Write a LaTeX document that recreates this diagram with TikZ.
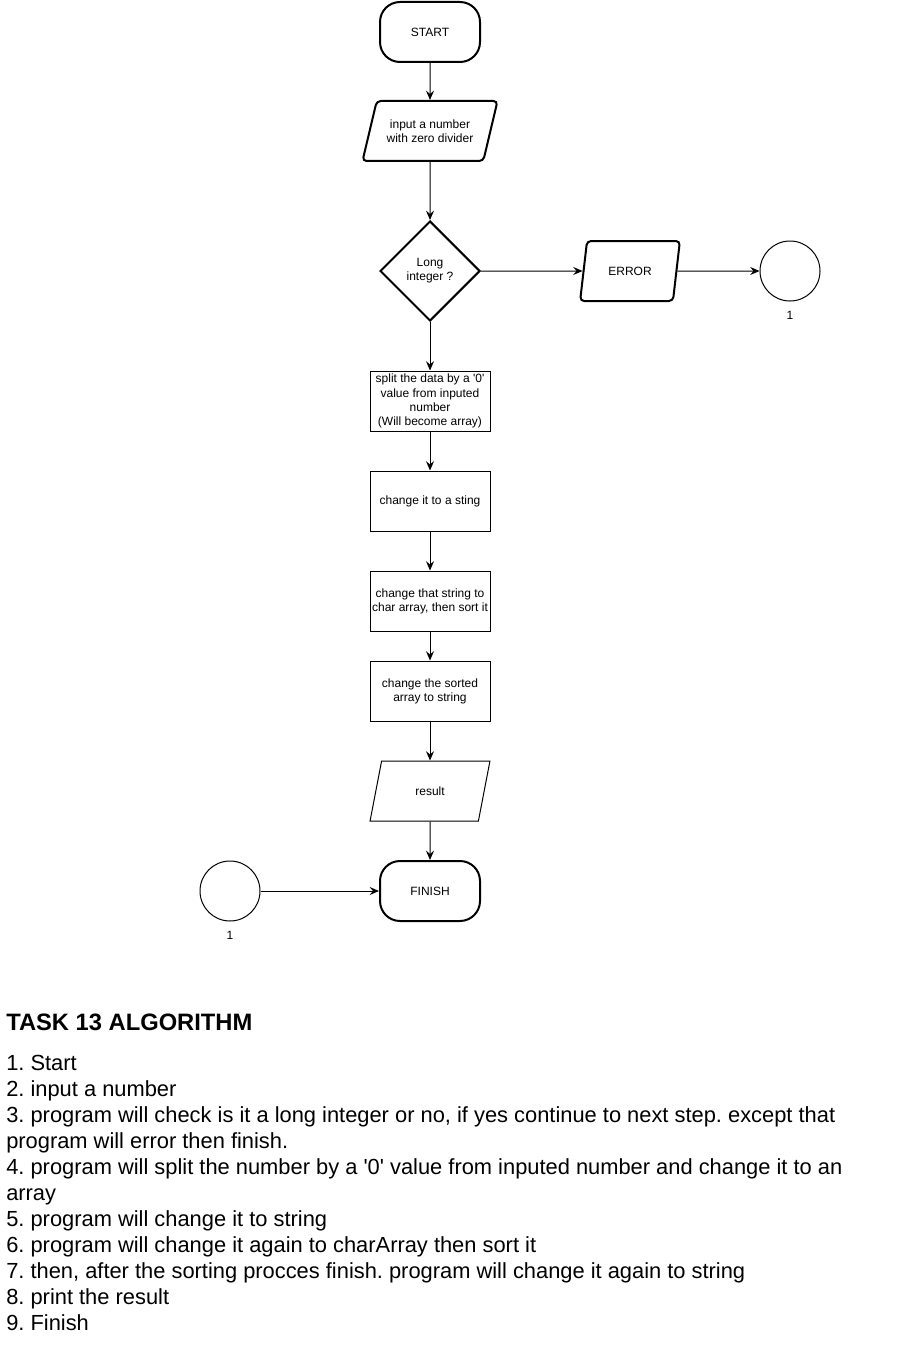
\documentclass[tikz,border=0pt]{standalone}
\usepackage{fontspec}
\setmainfont{Liberation Sans}
\usetikzlibrary{shapes.geometric,arrows.meta}
\newcommand{\apos}{\textquotesingle}

\begin{document}
\frenchspacing
\begin{tikzpicture}
[x=0.75pt,y=-0.75pt,
  lineDecorate/.style={-{Stealth[length=7pt,width=6pt,inset=2.5pt]},line width=0.75pt},%
  termDecorate/.style={shape=rectangle,rounded corners=15pt,draw,line width=1.5pt,
    minimum width=75pt,minimum height=45pt},%
  ioDecorate/.style={shape=trapezium,draw,trapezium stretches=true,minimum height=45pt,
    inner sep=1pt,align=center},%
  decisionDecorate/.style={shape=diamond,draw,line width=1.5pt,minimum width=75pt,
    minimum height=75pt,inner sep=0pt,align=center},%
  processDecorate/.style={shape=rectangle,draw,line width=0.75pt,minimum width=90pt,
    minimum height=45pt,inner sep=1pt,align=center},%
  connDecorate/.style={shape=circle,draw,line width=0.75pt,minimum size=45pt,inner sep=0pt},%
  listText/.style={anchor=base west,inner sep=0pt,font=\fontsize{16.4}{19}\selectfont}]
\useasboundingbox (0,0) rectangle (902,1352);
\fontsize{9}{10.6}\selectfont
%% flow nodes
\node (start) at (430,32) [termDecorate] {START};
\node (input) at (430,131) [ioDecorate,line width=1.5pt,rounded corners=3pt,minimum width=102pt,
  trapezium left angle=65,trapezium right angle=115] {input a number\\with zero divider};
\node (check) at (430,271) [decisionDecorate] {Long\\integer ?};
\node (error) at (630,271) [ioDecorate,line width=1.5pt,rounded corners=3pt,minimum width=75pt,
  trapezium left angle=71.6,trapezium right angle=108.4] {ERROR};
\node (conA) at (790,271) [connDecorate] {};
\node (conAlabel) at (790,315) {1};
\foreach \nodename/\y/\txt in {
  split/401/{split the data by a \apos0\apos\\value from inputed\\number\\(Will become array)},
  sting/501/{change it to a sting},
  sort/601/{change that string to\\char array, then sort it},
  tostr/691/{change the sorted\\array to string}}
{
  \node (\nodename) at (430,\y) [processDecorate] {\txt};
}
\node (result) at (430,791) [ioDecorate,line width=0.75pt,minimum width=90pt,
  trapezium left angle=71.6,trapezium right angle=108.4] {result};
\node (finish) at (430,891) [termDecorate] {FINISH};
\node (conB) at (230,891) [connDecorate] {};
\node (conBlabel) at (230,935) {1};
%% connectors
\path
\foreach \startnode/\endnode in {start/input, input/check, check/error, error/conA,
  check/split, split/sting, sting/sort, sort/tostr, tostr/result, result/finish, conB/finish}
{
  (\startnode) edge[lineDecorate] (\endnode)
};
%% algorithm text
\node (title) at (6,1030) [anchor=base west,inner sep=0pt,
  font=\bfseries\fontsize{17.8}{21}\selectfont] {TASK 13 ALGORITHM};
\foreach \i/\txt in {
  1/{1. Start},
  2/{2. input a number},
  3/{3. program will check is it a long integer or no, if yes continue to next step. except that},
  4/{program will error then finish.},
  5/{4. program will split the number by a \apos0\apos{} value from inputed number and change it to an},
  6/{array},
  7/{5. program will change it to string},
  8/{6. program will change it again to charArray then sort it},
  9/{7. then, after the sorting procces finish. program will change it again to string},
  10/{8. print the result},
  11/{9. Finish}}
{
  \node (line\i) at (6,{1044+26*\i}) [listText] {\txt};
}
\end{tikzpicture}
\end{document}
